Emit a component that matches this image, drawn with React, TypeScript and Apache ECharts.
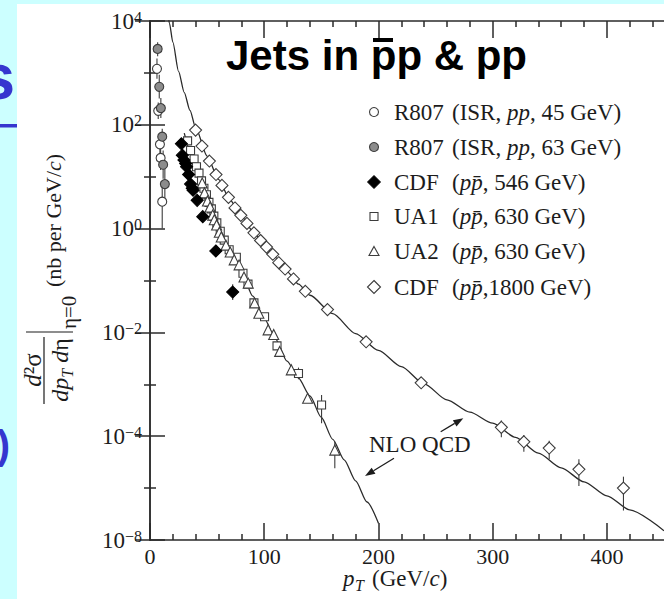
import React, { useEffect, useRef } from 'react';
import * as echarts from 'echarts';

// ---- fonts & colours -------------------------------------------------------
const SERIF = "'Liberation Serif', 'Times New Roman', Times, serif";
const SANS = "'Liberation Sans', Arial, Helvetica, sans-serif";
const INK = '#1c1c1c';
const MARK = '#3c3c3c';
const SLIDE_BLUE = '#3636cf';

// ---- R807 (ISR, pp, 45 GeV) --------------------------------------------------
const isr45PT = [6.1, 7.2, 8.7, 9.3, 10.7];
const isr45Val = [1200, 186, 42, 23, 3.3];
const isr45Lo = [770, 130, 27, 13.5, 1.0];
const isr45Hi = [1900, 270, 66, 39, 7.1];

// ---- R807 (ISR, pp, 63 GeV) --------------------------------------------------
const isr63PT = [6.7, 8.1, 9.5, 10.7, 11.5, 13.0];
const isr63Val = [2900, 540, 210, 59, 17, 7.2];
const isr63Lo = [2100, 320, 135, 41, 9.1, 3.7];
const isr63Hi = [3900, 920, 330, 84, 32, 14];

// ---- CDF (p pbar, 546 GeV) -------------------------------------------------
const cdf546PT = [27.5, 28.3, 29.7, 31.2, 32.0, 33.8, 35.5, 37.0, 37.7, 41.3, 46.2, 57.6, 72.4];
const cdf546Val = [43, 26, 21, 18, 15.5, 11, 7.2, 6.0, 5.5, 3.5, 1.7, 0.37, 0.06];
const cdf546ErrPT = [72.4];
const cdf546ErrLo = [0.042];
const cdf546ErrHi = [0.085];

// ---- UA1 (p pbar, 630 GeV) -------------------------------------------------
const ua1PT = [32.9, 35.5, 38.6, 40.7, 42.9, 45.1, 47.2, 49.4, 51.6, 53.7, 55.9, 58.5, 61.5, 65.0, 69.3, 75.6, 81.4, 85.8, 91.0, 100.3, 111.2, 130.0, 150.2];
const ua1Val = [49, 32, 22, 15.5, 11.7, 8.3, 6.0, 4.5, 3.2, 2.4, 1.74, 1.29, 0.89, 0.6, 0.39, 0.28, 0.138, 0.085, 0.037, 0.02, 0.0055, 0.00162, 0.0004];
const ua1ErrPT = [130.0, 150.2];
const ua1ErrLo = [0.00125, 0.000178];
const ua1ErrHi = [0.0021, 0.00062];

// ---- UA2 (p pbar, 630 GeV) -------------------------------------------------
const ua2PT = [45.7, 47.7, 50.3, 52.6, 54.9, 56.3, 58.3, 60.7, 62.4, 66.5, 70.2, 73.7, 78.0, 82.3, 86.0, 91.6, 95.3, 103.4, 108.3, 113.5, 123.7, 138.0, 161.8];
const ua2Val = [7.6, 4.9, 3.4, 2.6, 1.82, 1.48, 1.17, 0.85, 0.69, 0.48, 0.355, 0.25, 0.2, 0.117, 0.089, 0.037, 0.0234, 0.0112, 0.0091, 0.0043, 0.0019, 0.00054, 0.000054];
const ua2ErrPT = [161.8];
const ua2ErrLo = [0.000024];
const ua2ErrHi = [0.000078];

// ---- CDF (p pbar, 1800 GeV) ------------------------------------------------
const cdf1800PT = [39.9, 45.5, 52.0, 57.8, 63.0, 68.7, 74.4, 79.5, 84.9, 91.0, 96.8, 102.0, 107.5, 112.7, 118.3, 125.6, 136.0, 155.4, 189.2, 237.4, 307.6, 327.3, 349.5, 375.5, 414.5];
const cdf1800Val = [79, 39, 20, 11, 6.8, 4.0, 2.5, 1.8, 1.26, 0.83, 0.59, 0.44, 0.32, 0.22, 0.166, 0.107, 0.062, 0.0275, 0.0066, 0.00107, 0.000148, 0.000078, 0.000059, 0.000023, 0.00001];
const cdf1800ErrPT = [307.6, 327.3, 349.5, 375.5, 414.5];
const cdf1800ErrLo = [0.000095, 0.00005, 0.000036, 0.000011, 0.0000037];
const cdf1800ErrHi = [0.0002, 0.000105, 0.000082, 0.000036, 0.0000166];

// ---- NLO QCD predictions ---------------------------------------------------
const nlo630PT = [30, 40, 50, 60, 70, 80, 90, 100, 110, 120, 130, 140, 150, 160, 170, 180, 190, 200];
const nlo630Val = [69, 15.8, 4.0, 1.05, 0.38, 0.151, 0.05, 0.0186, 0.0074, 0.0028, 0.00132, 0.0006, 0.00023, 0.000087, 0.000035, 0.0000138, 0.0000054, 0.0000021];
const nlo1800PT = [16.3, 17, 20, 25, 30, 35, 40, 50, 60, 70, 80, 90, 100, 110, 120, 130, 140, 160, 180, 200, 220, 240, 260, 280, 300, 320, 340, 360, 380, 400, 420, 450];
const nlo1800Val = [11000, 9100, 3900, 1070, 417, 190, 87, 25, 8.9, 3.6, 1.74, 0.89, 0.49, 0.275, 0.148, 0.085, 0.052, 0.023, 0.0095, 0.0045, 0.0022, 0.00102, 0.0005, 0.00029, 0.000178, 0.000095, 0.000047, 0.0000245, 0.0000132, 0.0000071, 0.0000038, 0.00000151];

// ---- axes ------------------------------------------------------------------
const xMajor = [0, 100, 200, 300, 400];
const xMinor = [20, 40, 60, 80, 120, 140, 160, 180, 220, 240, 260, 280, 320, 340, 360, 380, 420, 440];
const yMajor = [1e-6, 1e-4, 1e-2, 1, 1e2, 1e4];
const yMajorExp = ['\u22128', '\u22124', '\u22122', '0', '2', '4'];
const yMinor = [1e-5, 1e-3, 1e-1, 10, 1e3];

// ---- legend ----------------------------------------------------------------
const legendMarks = ['circle', 'grayCircle', 'blackDiamond', 'square', 'triangle', 'diamond'];
const legendLabels = ['R807', 'R807', 'CDF', 'UA1', 'UA2', 'CDF'];
const legendDetails = [
  '(ISR, {i|pp}, 45 GeV)',
  '(ISR, {i|pp}, 63 GeV)',
  '({i|pp\u0304}, 546 GeV)',
  '({i|pp\u0304}, 630 GeV)',
  '({i|pp\u0304}, 630 GeV)',
  '({i|pp\u0304},1800 GeV)',
];
const legendRowY = [112, 147, 182, 216.5, 251.5, 287];

const pairs = (xs: number[], ys: number[]) => xs.map((x, i) => [x, ys[i]]);
const bars = (xs: number[], lo: number[], hi: number[]) => xs.map((x, i) => [x, lo[i], hi[i]]);

function errorBars(name: string, data: number[][]) {
  return {
    type: 'custom',
    name,
    data,
    z: 3,
    silent: true,
    encode: { x: 0, y: [1, 2] },
    renderItem: (_p: any, api: any) => {
      const x = api.value(0);
      const a = api.coord([x, api.value(1)]);
      const b = api.coord([x, api.value(2)]);
      return {
        type: 'line',
        shape: { x1: a[0], y1: a[1], x2: b[0], y2: b[1] },
        style: { stroke: MARK, lineWidth: 1.1 },
      };
    },
  };
}

function points(name: string, data: number[][], symbol: string, size: number, fill: string, stroke: string) {
  return {
    type: 'scatter',
    name,
    data,
    symbol,
    symbolSize: size,
    z: 4,
    silent: true,
    itemStyle: { color: fill, borderColor: stroke, borderWidth: 1.1, opacity: 1 },
  };
}

function curve(name: string, data: number[][]) {
  return {
    type: 'line',
    name,
    data,
    symbol: 'none',
    showSymbol: false,
    smooth: 0.25,
    smoothMonotone: 'x',
    clip: true,
    z: 2,
    silent: true,
    lineStyle: { color: '#2a2a2a', width: 1.3 },
  };
}

const axisLine = { color: '#2a2a2a', width: 1.5 };

const xAxes = [
  { position: 'bottom', ticks: xMajor, len: 17, labels: true, line: true },
  { position: 'bottom', ticks: xMinor, len: 6, labels: false, line: false },
  { position: 'top', ticks: xMajor, len: 17, labels: false, line: true },
  { position: 'top', ticks: xMinor, len: 6, labels: false, line: false },
].map((a) => ({
  type: 'value',
  min: 0,
  max: 450,
  position: a.position,
  axisLine: { show: a.line, onZero: false, lineStyle: axisLine },
  axisTick: { show: true, inside: true, length: a.len, customValues: a.ticks, lineStyle: axisLine },
  axisLabel: a.labels
    ? { show: true, customValues: xMajor, margin: 5, fontFamily: SERIF, fontSize: 22, color: INK }
    : { show: false },
  splitLine: { show: false },
}));

const yLabel = (v: number) => {
  const i = yMajor.findIndex((t) => Math.abs(Math.log10(t) - Math.log10(v)) < 1e-6);
  return i < 0 ? '' : `{b|10}{s|${yMajorExp[i]}}`;
};

const yAxes = [
  { position: 'left', ticks: yMajor, len: 15, labels: true, line: true },
  { position: 'left', ticks: yMinor, len: 6, labels: false, line: false },
  { position: 'right', ticks: yMajor, len: 15, labels: false, line: true },
  { position: 'right', ticks: yMinor, len: 6, labels: false, line: false },
].map((a) => ({
  type: 'log',
  logBase: 10,
  min: 1e-6,
  max: 1e4,
  position: a.position,
  axisLine: { show: a.line, lineStyle: axisLine },
  axisTick: { show: true, inside: true, length: a.len, customValues: a.ticks, lineStyle: axisLine },
  axisLabel: a.labels
    ? {
        show: true,
        customValues: yMajor,
        margin: 8,
        fontFamily: SERIF,
        fontSize: 22,
        color: INK,
        formatter: yLabel,
        rich: {
          b: { fontFamily: SERIF, fontSize: 23, lineHeight: 24, color: INK },
          s: { fontFamily: SERIF, fontSize: 16, lineHeight: 16, color: INK, verticalAlign: 'top' },
        },
      }
    : { show: false },
  splitLine: { show: false },
}));

// ---- decorations -------------------------------------------------------------
function legendMark(kind: string, cx: number, cy: number) {
  const s = { stroke: MARK, lineWidth: 1.1, fill: '#fff' };
  switch (kind) {
    case 'circle':
      return { type: 'circle', shape: { cx, cy, r: 4.5 }, style: s };
    case 'grayCircle':
      return { type: 'circle', shape: { cx, cy, r: 4.5 }, style: { ...s, fill: '#8c8c8c' } };
    case 'blackDiamond':
      return { type: 'polygon', shape: { points: [[cx, cy - 6.5], [cx + 6.5, cy], [cx, cy + 6.5], [cx - 6.5, cy]] }, style: { fill: '#000', stroke: '#000' } };
    case 'square':
      return { type: 'rect', shape: { x: cx - 4, y: cy - 4, width: 8, height: 8 }, style: s };
    case 'triangle':
      return { type: 'polygon', shape: { points: [[cx, cy - 5], [cx + 5, cy + 4], [cx - 5, cy + 4]] }, style: s };
    default:
      return { type: 'polygon', shape: { points: [[cx, cy - 6.5], [cx + 6.5, cy], [cx, cy + 6.5], [cx - 6.5, cy]] }, style: s };
  }
}

function arrow(x1: number, y1: number, x2: number, y2: number) {
  const ang = Math.atan2(y2 - y1, x2 - x1);
  const len = 10;
  const half = 3.6;
  const bx = x2 - len * Math.cos(ang);
  const by = y2 - len * Math.sin(ang);
  const px = -Math.sin(ang) * half;
  const py = Math.cos(ang) * half;
  return [
    { type: 'line', shape: { x1, y1, x2: bx, y2: by }, style: { stroke: INK, lineWidth: 1.3 }, silent: true },
    { type: 'polygon', shape: { points: [[x2, y2], [bx + px, by + py], [bx - px, by - py]] }, style: { fill: INK }, silent: true },
  ];
}

const serifText = (extra: any) => ({ fontFamily: SERIF, fill: INK, ...extra });
const mid = { verticalAlign: 'middle', textVerticalAlign: 'middle' };
const leftAlign = { align: 'left', textAlign: 'left', ...mid };
const centerAlign = { align: 'center', textAlign: 'center', ...mid };

const italicRich = (size: number, lh: number) => ({
  i: { fontFamily: SERIF, fontStyle: 'italic', fontSize: size, lineHeight: lh, color: INK },
  sub: { fontFamily: SERIF, fontStyle: 'italic', fontSize: Math.round(size * 0.68), lineHeight: Math.round(size * 0.68), color: INK, verticalAlign: 'bottom' },
});

const legendGraphics: any[] = [];
legendRowY.forEach((y, i) => {
  legendGraphics.push({ ...legendMark(legendMarks[i], 374, y), silent: true, z: 50 });
  legendGraphics.push({
    type: 'text', x: 394, y, silent: true, z: 50,
    style: serifText({ text: legendLabels[i], fontSize: 23, ...leftAlign }),
  });
  legendGraphics.push({
    type: 'text', x: 452, y, silent: true, z: 50,
    style: serifText({
      text: legendDetails[i], fontSize: 23, lineHeight: 26, ...leftAlign,
      rich: { i: { fontFamily: SERIF, fontStyle: 'italic', fontSize: 23, lineHeight: 26, color: INK } },
    }),
  });
});

// rotated y-axis title: local x runs upward on screen, local y runs rightward
const yTitle = {
  type: 'group', x: 0, y: 420, rotation: Math.PI / 2, silent: true, z: 50,
  children: [
    {
      type: 'text', x: 50, y: 32,
      style: serifText({ text: '{i|d}\u00b2\u03c3', fontSize: 25, lineHeight: 28, ...centerAlign, rich: italicRich(25, 28) }),
    },
    { type: 'line', shape: { x1: 16, y1: 44, x2: 83, y2: 44 }, style: { stroke: INK, lineWidth: 1.2 } },
    {
      type: 'text', x: 50, y: 60,
      style: serifText({ text: '{i|dp}{sub|T}{i| d}\u03b7', fontSize: 24, lineHeight: 30, ...centerAlign, rich: italicRich(24, 30) }),
    },
    { type: 'line', shape: { x1: 88, y1: 26, x2: 88, y2: 73 }, style: { stroke: INK, lineWidth: 1.2 } },
    {
      type: 'text', x: 91, y: 69,
      style: serifText({ text: '\u03b7=0', fontSize: 21, ...leftAlign }),
    },
    {
      type: 'text', x: 133, y: 53,
      style: serifText({ text: '(nb per GeV/{i|c})', fontSize: 22, lineHeight: 24, ...leftAlign, rich: italicRich(22, 24) }),
    },
  ],
};

const graphics: any[] = [
  { type: 'rect', shape: { x: 17, y: 4, width: 700, height: 620 }, style: { fill: '#ffffff' }, z: -100, silent: true },
  {
    type: 'text', x: 15, y: 77, silent: true, z: 50,
    style: { text: 's', fontFamily: SANS, fontWeight: 'bold', fontSize: 64, fill: SLIDE_BLUE, align: 'right', textAlign: 'right', ...mid },
  },
  { type: 'rect', shape: { x: 0, y: 124, width: 17, height: 3.5 }, style: { fill: SLIDE_BLUE }, silent: true, z: 50 },
  {
    type: 'text', x: 10, y: 445, silent: true, z: 50,
    style: { text: ')', fontFamily: SANS, fontWeight: 'bold', fontSize: 40, fill: SLIDE_BLUE, align: 'right', textAlign: 'right', ...mid },
  },
  {
    type: 'text', x: 226, y: 55, silent: true, z: 50,
    style: { text: 'Jets in pp & pp', fontFamily: SANS, fontWeight: 'bold', fontSize: 42, fill: '#000', ...leftAlign },
  },
  { type: 'rect', shape: { x: 373, y: 38, width: 20, height: 4 }, style: { fill: '#000' }, silent: true, z: 50 },
  ...legendGraphics,
  {
    type: 'text', x: 369, y: 444, silent: true, z: 50,
    style: serifText({ text: 'NLO QCD', fontSize: 23, ...leftAlign }),
  },
  ...arrow(440.7, 431.7, 463.3, 418.3),
  ...arrow(394, 458.3, 365, 476),
  // x-axis title: p, subscript T, then the unit
  {
    type: 'text', x: 343, y: 578, silent: true, z: 50,
    style: serifText({ text: 'p', fontSize: 23, fontStyle: 'italic', ...leftAlign }),
  },
  {
    type: 'text', x: 355, y: 585, silent: true, z: 50,
    style: serifText({ text: 'T', fontSize: 16, fontStyle: 'italic', ...leftAlign }),
  },
  {
    type: 'text', x: 372, y: 578, silent: true, z: 50,
    style: serifText({ text: '(GeV/{i|c})', fontSize: 23, ...leftAlign, rich: italicRich(23, 23) }),
  },
  yTitle,
];

const option: any = {
  animation: false,
  backgroundColor: '#ccffff',
  grid: { left: 150, top: 21, right: -5, bottom: 59, containLabel: false },
  xAxis: xAxes,
  yAxis: yAxes,
  graphic: graphics,
  series: [
    curve('NLO QCD 630 GeV', pairs(nlo630PT, nlo630Val)),
    curve('NLO QCD 1800 GeV', pairs(nlo1800PT, nlo1800Val)),
    errorBars('R807 45 err', bars(isr45PT, isr45Lo, isr45Hi)),
    errorBars('R807 63 err', bars(isr63PT, isr63Lo, isr63Hi)),
    errorBars('CDF 546 err', bars(cdf546ErrPT, cdf546ErrLo, cdf546ErrHi)),
    errorBars('UA1 err', bars(ua1ErrPT, ua1ErrLo, ua1ErrHi)),
    errorBars('UA2 err', bars(ua2ErrPT, ua2ErrLo, ua2ErrHi)),
    errorBars('CDF 1800 err', bars(cdf1800ErrPT, cdf1800ErrLo, cdf1800ErrHi)),
    points('R807 (ISR, pp, 45 GeV)', pairs(isr45PT, isr45Val), 'circle', 9, '#ffffff', MARK),
    points('R807 (ISR, pp, 63 GeV)', pairs(isr63PT, isr63Val), 'circle', 9, '#8c8c8c', MARK),
    points('UA1 (ppbar, 630 GeV)', pairs(ua1PT, ua1Val), 'rect', 8, '#ffffff', MARK),
    points('UA2 (ppbar, 630 GeV)', pairs(ua2PT, ua2Val), 'triangle', 10, '#ffffff', MARK),
    points('CDF (ppbar, 1800 GeV)', pairs(cdf1800PT, cdf1800Val), 'diamond', 12, '#ffffff', MARK),
    points('CDF (ppbar, 546 GeV)', pairs(cdf546PT, cdf546Val), 'diamond', 12, '#000000', '#000000'),
  ],
};

export default function App() {
  const ref = useRef<HTMLDivElement>(null);
  useEffect(() => {
    if (!ref.current) return;
    const chart = echarts.init(ref.current, undefined, { renderer: 'svg' });
    chart.setOption(option);
    return () => chart.dispose();
  }, []);
  return (
    <div style={{ position: 'fixed', left: 0, top: 0, width: 664, height: 599, overflow: 'hidden', background: '#ccffff' }}>
      <div ref={ref} style={{ width: 664, height: 599 }} />
    </div>
  );
}
